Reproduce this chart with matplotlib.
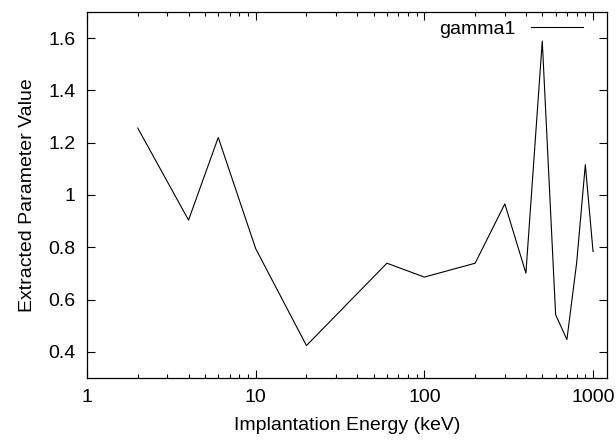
import matplotlib.pyplot as plt
from matplotlib.ticker import LogLocator, NullFormatter, FixedLocator

plt.rcParams['font.family'] = ['Liberation Sans', 'DejaVu Sans']

# implantation energy (keV) and extracted gamma1
energy = [2, 4, 6, 10, 20, 60, 100, 200, 300, 400, 500, 600, 700, 800, 900, 1000]
gamma1 = [1.256, 0.904, 1.22, 0.795, 0.424, 0.739, 0.686, 0.739, 0.966, 0.701,
          1.589, 0.542, 0.447, 0.742, 1.116, 0.784]

xticks = [1, 10, 100, 1000]
xticklabels = ["1", "10", "100", "1000"]
yticks = [0.4, 0.6, 0.8, 1.0, 1.2, 1.4, 1.6]
yticklabels = ["0.4", "0.6", "0.8", "1", "1.2", "1.4", "1.6"]

fig = plt.figure(figsize=(6.16, 4.41), dpi=100)
ax = fig.add_axes([0.1412, 0.1429, 0.8442, 0.8299])

ax.plot(energy, gamma1, color="black", linewidth=0.8, label="gamma1")

ax.set_xscale("log")
ax.set_xlim(1, 1210)
ax.set_ylim(0.3, 1.7)

ax.xaxis.set_major_locator(FixedLocator(xticks))
ax.set_xticklabels(xticklabels)
ax.xaxis.set_minor_locator(LogLocator(base=10, subs=range(2, 10)))
ax.xaxis.set_minor_formatter(NullFormatter())
ax.set_yticks(yticks)
ax.set_yticklabels(yticklabels)

ax.tick_params(which="both", direction="in", top=True, right=True,
               labelsize=14, width=0.8)
ax.tick_params(which="major", length=6, pad=8)
ax.tick_params(which="minor", length=3)
for s in ax.spines.values():
    s.set_linewidth(0.9)

ax.set_xlabel("Implantation Energy (keV)", fontsize=14, labelpad=8)
ax.set_ylabel("Extracted Parameter Value", fontsize=14, labelpad=9)

ax.legend(loc="upper right", bbox_to_anchor=(0.954, 0.978), frameon=False,
          markerfirst=False, fontsize=14, handlelength=2.7,
          borderaxespad=0, borderpad=0, handletextpad=0.8)

fig.savefig("out.png", dpi=100)
